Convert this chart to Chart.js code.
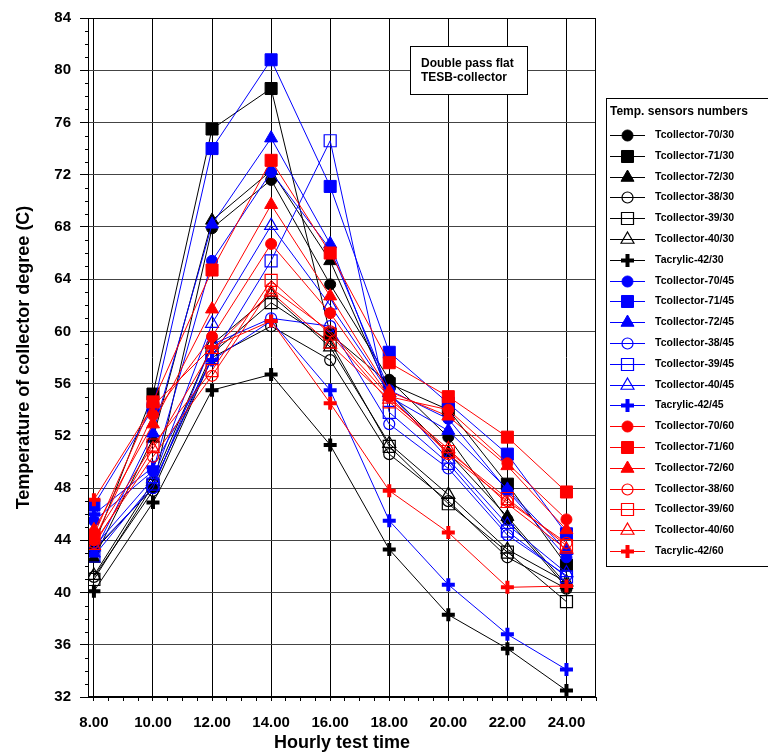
<!DOCTYPE html>
<html>
<head>
<meta charset="utf-8">
<title>Double pass flat TESB-collector</title>
<script src="https://cdn.jsdelivr.net/npm/chart.js@4.4.1/dist/chart.umd.min.js"></script>
<style>
    body { margin: 0; background: #ffffff; }
    #chartBox { width: 768px; height: 756px; }
</style>
</head>
<body>

<div id="chartBox">
    <canvas id="tempChart" width="768" height="756"></canvas>
</div>

<script>

// Hourly test time (x values)
const hours = [8, 10, 12, 14, 16, 18, 20, 22, 24];

// Sensor names (legend order)
const sensorNames = [
    "Tcollector-70/30", "Tcollector-71/30", "Tcollector-72/30",
    "Tcollector-38/30", "Tcollector-39/30", "Tcollector-40/30", "Tacrylic-42/30",
    "Tcollector-70/45", "Tcollector-71/45", "Tcollector-72/45",
    "Tcollector-38/45", "Tcollector-39/45", "Tcollector-40/45", "Tacrylic-42/45",
    "Tcollector-70/60", "Tcollector-71/60", "Tcollector-72/60",
    "Tcollector-38/60", "Tcollector-39/60", "Tcollector-40/60", "Tacrylic-42/60"
];

// Temperatures (C)
const t70_30 = [43.2, 48.0, 67.9, 71.6, 63.6, 56.3, 51.9, 45.6, 40.4];
const t71_30 = [43.6, 55.2, 75.5, 78.6, 59.8, 56.0, 54.0, 48.3, 42.1];
const t72_30 = [42.6, 51.8, 68.5, 72.3, 65.4, 55.3, 50.7, 45.8, 40.6];
const t38_30 = [41.2, 47.8, 58.0, 60.4, 57.8, 50.6, 47.0, 42.7, 40.3];
const t39_30 = [41.0, 48.2, 58.3, 62.2, 59.2, 51.2, 46.8, 43.1, 39.3];
const t40_30 = [41.3, 48.5, 59.0, 62.8, 58.8, 51.4, 47.5, 43.3, 40.8];
const a42_30 = [40.1, 46.9, 55.5, 56.7, 51.3, 43.3, 38.3, 35.7, 32.5];

const t70_45 = [45.5, 49.3, 65.4, 72.2, 66.3, 55.5, 53.3, 47.8, 42.7];
const t71_45 = [46.7, 54.1, 74.0, 80.8, 71.1, 58.4, 54.5, 50.6, 44.5];
const t72_45 = [43.0, 52.2, 68.2, 74.8, 66.7, 55.0, 52.4, 47.9, 43.2];
const t38_45 = [43.3, 48.0, 59.0, 61.0, 60.4, 52.9, 49.5, 44.4, 41.3];
const t39_45 = [42.8, 48.3, 58.0, 65.4, 74.6, 53.8, 49.9, 44.7, 41.2];
const t40_45 = [43.5, 48.7, 60.6, 68.1, 62.0, 55.3, 50.2, 45.2, 41.5];
const a42_45 = [46.0, 49.6, 57.8, 60.8, 55.5, 45.5, 40.6, 36.8, 34.1];

const t70_60 = [44.0, 53.6, 59.6, 66.7, 61.4, 55.0, 54.0, 49.9, 45.6];
const t71_60 = [44.4, 54.6, 64.7, 73.1, 66.0, 57.6, 55.0, 51.9, 47.7];
const t72_60 = [44.8, 52.9, 61.7, 69.7, 62.7, 55.4, 53.5, 49.7, 44.8];
const t38_60 = [43.8, 50.4, 56.6, 63.3, 60.0, 55.0, 50.6, 47.0, 43.8];
const t39_60 = [44.2, 51.3, 57.0, 63.9, 59.8, 54.6, 50.8, 47.2, 43.6];
const t40_60 = [43.6, 51.0, 58.6, 63.0, 59.0, 54.8, 51.0, 46.8, 43.3];
const a42_60 = [47.1, 54.3, 58.8, 60.8, 54.5, 47.8, 44.6, 40.4, 40.5];

const seriesValues = [
    t70_30, t71_30, t72_30, t38_30, t39_30, t40_30, a42_30,
    t70_45, t71_45, t72_45, t38_45, t39_45, t40_45, a42_45,
    t70_60, t71_60, t72_60, t38_60, t39_60, t40_60, a42_60
];

// Axis ticks
const xTicks = { min: 7.8, max: 25, step: 2, minorStep: 0.5 };
const yTicks = { min: 32, max: 84, step: 4, minorStep: 1 };


// Styles: colour by group, marker by position in group
const groupColors = ["#000000", "#0000ff", "#ff0000"];

const markers = [
    { style: "circle",   radius: 5.5, filled: true,  width: 1 },
    { style: "rect",     radius: 8.5, filled: true,  width: 1 },
    { style: "triangle", radius: 7.5, filled: true,  width: 1 },
    { style: "circle",   radius: 5.5, filled: false, width: 1.2 },
    { style: "rect",     radius: 8.5, filled: false, width: 1.2 },
    { style: "triangle", radius: 7.5, filled: false, width: 1.2 },
    { style: "cross",    radius: 6.5, filled: true,  width: 4 }
];

function seriesStyle(i) {
    const color = groupColors[Math.floor(i / 7)];
    const m = markers[i % 7];
    return { color: color, marker: m };
}

const FONT = "'Liberation Sans', Arial, sans-serif";


// Build datasets
const datasets = seriesValues.map((values, i) => {

    const s = seriesStyle(i);

    return {
        label: sensorNames[i],
        data: values.map((v, k) => ({ x: hours[k], y: v })),
        borderColor: s.color,
        borderWidth: 1,
        backgroundColor: s.color,
        pointStyle: s.marker.style,
        pointRadius: s.marker.radius,
        pointHoverRadius: s.marker.radius,
        pointBackgroundColor: s.marker.filled ? s.color : "rgba(0,0,0,0)",
        pointBorderColor: s.color,
        pointBorderWidth: s.marker.width,
        tension: 0,
        fill: false,
        order: seriesValues.length - i
    };

});


// Draw a marker (used for the legend)
function drawMarker(ctx, m, color, x, y) {

    ctx.save();
    ctx.strokeStyle = color;
    ctx.fillStyle = color;
    ctx.lineWidth = m.width;
    ctx.beginPath();

    const r = m.radius;

    if (m.style === "circle") {
        ctx.arc(x, y, r, 0, Math.PI * 2);
    } else if (m.style === "rect") {
        const h = r * Math.SQRT1_2;
        ctx.rect(x - h, y - h, 2 * h, 2 * h);
    } else if (m.style === "triangle") {
        ctx.moveTo(x, y - r);
        ctx.lineTo(x + r * Math.sin(2 * Math.PI / 3), y + r / 2);
        ctx.lineTo(x - r * Math.sin(2 * Math.PI / 3), y + r / 2);
        ctx.closePath();
    } else if (m.style === "cross") {
        ctx.moveTo(x - r, y);
        ctx.lineTo(x + r, y);
        ctx.moveTo(x, y - r);
        ctx.lineTo(x, y + r);
    }

    if (m.filled && m.style !== "cross") ctx.fill();
    ctx.stroke();
    ctx.restore();
}


// Frame, minor ticks, note box and legend
const decorations = {

    id: "decorations",

    afterDraw(chart) {

        const { ctx, chartArea: a } = chart;
        const yScale = chart.scales.y;

        ctx.save();

        // Frame (top + right)
        ctx.strokeStyle = "#000000";
        ctx.lineWidth = 1;
        ctx.strokeRect(
            Math.round(a.left) + 0.5,
            Math.round(a.top) + 0.5,
            Math.round(a.right - a.left) - 1,
            Math.round(a.bottom - a.top) - 1
        );

        // Minor y ticks
        ctx.beginPath();
        for (let v = yTicks.min; v <= yTicks.max; v += yTicks.minorStep) {
            if (v % yTicks.step === 0) continue;
            const py = Math.round(yScale.getPixelForValue(v)) + 0.5;
            ctx.moveTo(a.left - 3, py);
            ctx.lineTo(a.left, py);
        }
        ctx.stroke();

        // Note box
        ctx.fillStyle = "#ffffff";
        ctx.fillRect(410.5, 46.5, 117, 48);
        ctx.strokeRect(410.5, 46.5, 117, 48);
        ctx.fillStyle = "#000000";
        ctx.font = "bold 12px " + FONT;
        ctx.textAlign = "left";
        ctx.textBaseline = "middle";
        ctx.fillText("Double pass flat", 421, 64);
        ctx.fillText("TESB-collector", 421, 78);

        // Legend box
        ctx.fillStyle = "#ffffff";
        ctx.fillRect(606.5, 98.5, 170, 468);
        ctx.strokeRect(606.5, 98.5, 170, 468);

        ctx.fillStyle = "#000000";
        ctx.font = "bold 12px " + FONT;
        ctx.fillText("Temp. sensors numbers", 610, 112);

        ctx.font = "bold 10.5px " + FONT;

        sensorNames.forEach((name, i) => {

            const s = seriesStyle(i);
            const ly = Math.round(135 + i * 20.8) + 0.5;

            ctx.strokeStyle = s.color;
            ctx.lineWidth = 1;
            ctx.beginPath();
            ctx.moveTo(610, ly);
            ctx.lineTo(645, ly);
            ctx.stroke();

            drawMarker(ctx, s.marker, s.color, 627.5, ly);

            ctx.fillStyle = "#000000";
            ctx.fillText(name, 655, ly);

        });

        ctx.restore();
    }
};


// Create Chart

const ctx = document.getElementById("tempChart").getContext("2d");

const tempChart = new Chart(ctx, {

    type: "line",

    data: {
        datasets: datasets
    },

    options: {

        responsive: false,
        animation: false,
        devicePixelRatio: 1,

        layout: {
            padding: { left: 0, right: 172, top: 15, bottom: 0 }
        },

        plugins: {
            legend: { display: false },
            tooltip: { enabled: false }
        },

        scales: {

            x: {
                type: "linear",
                min: xTicks.min,
                max: xTicks.max,
                afterFit(scale) { scale.height = 59; },
                border: { display: true, color: "#000000", width: 1 },
                grid: {
                    color: (c) => (c.tick && c.tick.value % xTicks.step === 0) ? "#000000" : "rgba(0,0,0,0)",
                    tickColor: "#000000",
                    tickLength: 4,
                    lineWidth: 1
                },
                ticks: {
                    stepSize: xTicks.minorStep,
                    includeBounds: false,
                    autoSkip: false,
                    maxRotation: 0,
                    padding: 13,
                    color: "#000000",
                    font: { family: FONT, size: 15, weight: "bold" },
                    callback: (v) => (v % xTicks.step === 0) ? v.toFixed(2) : ""
                },
                title: {
                    display: true,
                    text: "Hourly test time",
                    color: "#000000",
                    padding: { top: 0, bottom: 2 },
                    font: { family: FONT, size: 18, weight: "bold" }
                }
            },

            y: {
                type: "linear",
                min: yTicks.min,
                max: yTicks.max,
                afterFit(scale) { scale.width = 88; },
                border: { display: true, color: "#000000", width: 1 },
                grid: {
                    color: "#444444",
                    tickColor: "#000000",
                    tickLength: 8,
                    lineWidth: 1
                },
                ticks: {
                    stepSize: yTicks.step,
                    padding: 9,
                    color: "#000000",
                    font: { family: FONT, size: 15, weight: "bold" }
                },
                title: {
                    display: true,
                    text: "Temperature of collector degree (C)",
                    color: "#000000",
                    padding: { top: 13, bottom: 0 },
                    font: { family: FONT, size: 18, weight: "bold" }
                }
            }
        }
    },

    plugins: [decorations]

});

</script>
</body>
</html>
